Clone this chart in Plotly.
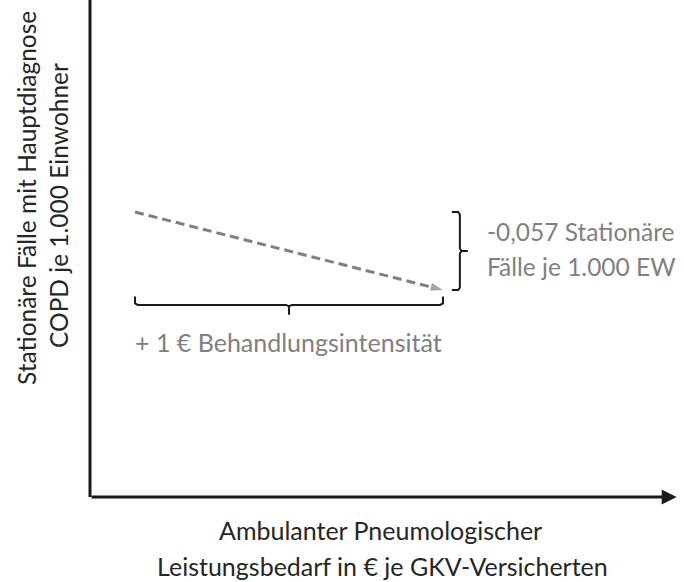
import plotly.graph_objects as go

# ---- data (schematic, arbitrary units) ----
trend_x = [0.773, 6.065]          # ambulant treatment intensity
trend_y = [5.734, 4.165]          # inpatient cases per 1,000 inhabitants
effect_label = ["-0,057 Stationäre", "Fälle je 1.000 EW"]
step_label = "+ 1 € Behandlungsintensität"
x_title = ["Ambulanter Pneumologischer", "Leistungsbedarf in € je GKV-Versicherten"]
y_title = ["Stationäre Fälle mit Hauptdiagnose", "COPD je 1.000 Einwohner"]
x_max, y_max = 10.0, 10.0

GRAY = "#808080"
DARK = "#1a1a1a"
TXT = "#262626"
FONT = "Lato"

fig = go.Figure()

# dashed trend line with arrow head
fig.add_trace(go.Scatter(
    x=trend_x, y=trend_y, mode="lines+markers",
    line=dict(color=GRAY, width=3, dash="9px,5px"),
    marker=dict(symbol=["circle", "arrow"], size=[0, 13], color=GRAY,
                angleref="previous", line=dict(width=0)),
    hoverinfo="skip", showlegend=False))

# horizontal bracket below the line (spans the x step)
hb_y = trend_y[1] - 0.30
hook = 0.17
tick = 0.2
xm = (trend_x[0] + trend_x[1]) / 2
fig.add_trace(go.Scatter(
    x=[trend_x[0], trend_x[0], trend_x[0] + 0.05, xm - 0.05, xm, xm, xm, xm + 0.05, trend_x[1] - 0.05, trend_x[1], trend_x[1]],
    y=[hb_y + hook, hb_y + 0.03, hb_y, hb_y, hb_y - 0.03, hb_y - tick, hb_y - 0.03, hb_y, hb_y, hb_y + 0.03, hb_y + hook],
    mode="lines", line=dict(color=DARK, width=2), hoverinfo="skip", showlegend=False))

# vertical bracket right of the line (spans the y change)
vb_x = trend_x[1] + 0.29
hk = 0.137
ym = (trend_y[0] + trend_y[1]) / 2
fig.add_trace(go.Scatter(
    x=[vb_x - hk, vb_x - 0.03, vb_x, vb_x, vb_x + 0.03, vb_x + hk, vb_x + 0.03, vb_x, vb_x, vb_x - 0.03, vb_x - hk],
    y=[trend_y[0], trend_y[0], trend_y[0] - 0.05, ym + 0.05, ym, ym, ym, ym - 0.05, trend_y[1] + 0.05, trend_y[1], trend_y[1]],
    mode="lines", line=dict(color=DARK, width=2), hoverinfo="skip", showlegend=False))

# axes
fig.add_shape(type="line", x0=0, x1=0, y0=0, y1=y_max + 0.2, line=dict(color=DARK, width=3))
fig.add_annotation(x=x_max + 0.08, y=0, ax=0, ay=0, xref="x", yref="y", axref="x", ayref="y",
                   text="", showarrow=True, arrowhead=2, arrowsize=1.0, arrowwidth=3,
                   arrowcolor=DARK, standoff=0)

# labels
fig.add_annotation(x=vb_x + 0.43, y=ym + 0.40, text=effect_label[0], showarrow=False,
                   xanchor="left", yanchor="middle", font=dict(family=FONT, size=24.5, color=GRAY))
fig.add_annotation(x=vb_x + 0.43, y=ym - 0.32, text=effect_label[1], showarrow=False,
                   xanchor="left", yanchor="middle", font=dict(family=FONT, size=24.5, color=GRAY))
fig.add_annotation(x=xm, y=hb_y - 0.74, text=step_label, showarrow=False,
                   xanchor="center", yanchor="middle", font=dict(family=FONT, size=25, color=GRAY))

fig.add_annotation(x=380/684, y=1 - 530/582, xref="paper", yref="paper", text=x_title[0],
                   showarrow=False, xanchor="center", yanchor="middle",
                   font=dict(family=FONT, size=25, color=TXT))
fig.add_annotation(x=382/684, y=1 - 566/582, xref="paper", yref="paper", text=x_title[1],
                   showarrow=False, xanchor="center", yanchor="middle",
                   font=dict(family=FONT, size=25, color=TXT))
fig.add_annotation(x=26/684, y=1 - 198/582, xref="paper", yref="paper", text=y_title[0],
                   showarrow=False, textangle=-90, xanchor="center", yanchor="middle",
                   font=dict(family=FONT, size=24.5, color=TXT))
fig.add_annotation(x=58/684, y=1 - 206/582, xref="paper", yref="paper", text=y_title[1],
                   showarrow=False, textangle=-90, xanchor="center", yanchor="middle",
                   font=dict(family=FONT, size=24.5, color=TXT))

fig.update_layout(
    width=684, height=582, margin=dict(l=0, r=0, t=0, b=0),
    paper_bgcolor="white", plot_bgcolor="white",
    xaxis=dict(range=[-90/58.2, 594/58.2], visible=False, fixedrange=True),
    yaxis=dict(range=[-85/49.7, y_max], visible=False, fixedrange=True),
    showlegend=False,
)

fig.write_html("out.html", config={"displayModeBar": False},
               post_script="document.body.style.margin='0';document.body.style.overflow='hidden';")
